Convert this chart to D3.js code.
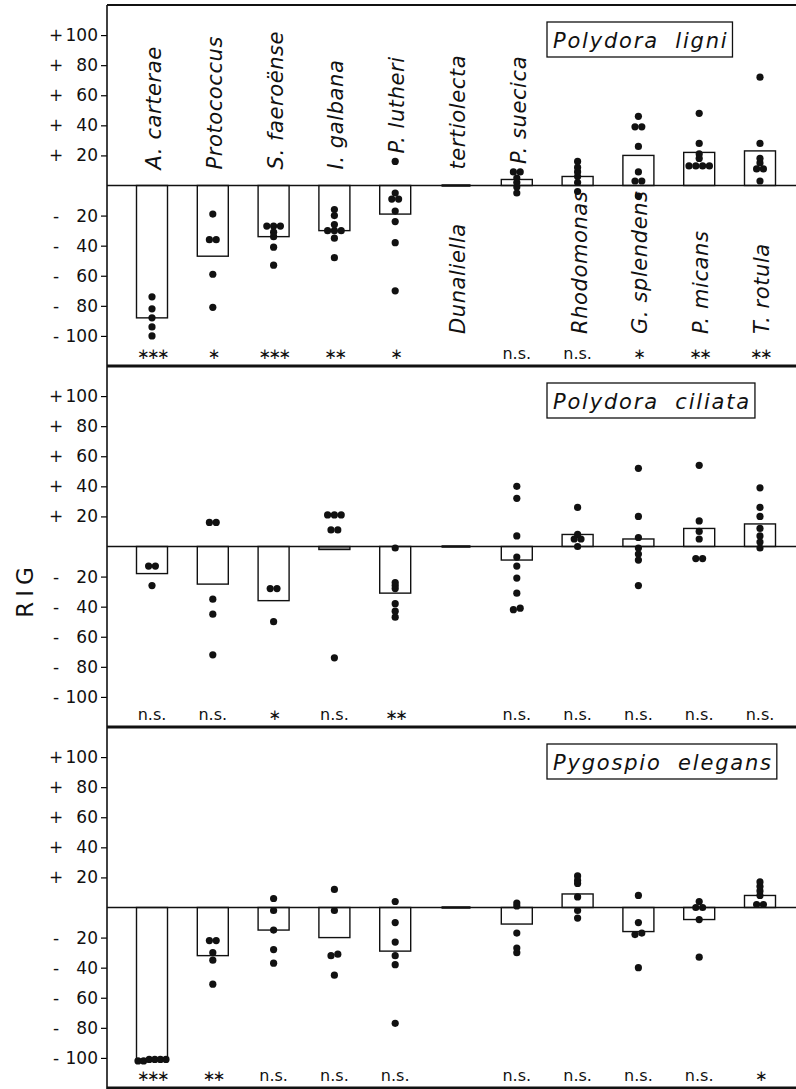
<!DOCTYPE html>
<html>
<head>
<meta charset="utf-8">
<script src="https://d3js.org/d3.v7.min.js"></script>
<style>
  body { margin: 0; background: #fff; }
  text { font-family: "DejaVu Sans", sans-serif; fill: #111; }
</style>
</head>
<body>
<svg id="chart"></svg>
<script>
// algae offered as food
const categories = ["A. carterae", "Protococcus", "S. faeroënse", "I. galbana", "P. lutheri",
  "Dunaliella", "P. suecica", "Rhodomonas", "G. splendens", "P. micans", "T. rotula"];
const labelTop = ["A. carterae", "Protococcus", "S. faeroënse", "I. galbana", "P. lutheri",
  "tertiolecta", "P. suecica", "", "", "", ""];
const labelBottom = ["", "", "", "", "", "Dunaliella", "", "Rhodomonas", "G. splendens", "P. micans", "T. rotula"];

const tickValues = [-100, -80, -60, -40, -20, 20, 40, 60, 80, 100];
const panelTitles = ["Polydora ligni", "Polydora ciliata", "Pygospio elegans"];

// Polydora ligni
const ligniMeans = [-88, -47, -34, -30, -19, 0, 4, 6, 20, 22, 23];
const ligniDots = [
  [-74, -82, -88, -94, -100],
  [-19, -36, -36, -59, -81],
  [-27, -27, -27, -31, -34, -41, -53],
  [-16, -20, -26, -30, -30, -30, -35, -48],
  [16, -5, -9, -9, -17, -24, -38, -70],
  [],
  [9, 9, 5, 2, -1, -5],
  [16, 12, 9, 6, 2, -4],
  [46, 39, 39, 26, 9, 3, 3, -7],
  [48, 28, 21, 18, 13, 13, 13, 13],
  [72, 28, 18, 15, 11, 11, 3]
];
const ligniSig = ["***", "*", "***", "**", "*", "", "n.s.", "n.s.", "*", "**", "**"];

// Polydora ciliata
const ciliataMeans = [-18, -25, -36, -2, -31, 0, -9, 8, 5, 12, 15];
const ciliataDots = [
  [-13, -13, -26],
  [16, 16, -35, -45, -72],
  [-28, -28, -50],
  [21, 21, 21, 11, 11, -74],
  [-1, -24, -26, -28, -38, -43, -47],
  [],
  [40, 32, 7, -7, -13, -21, -31, -41, -42],
  [26, 8, 5, 5, 0],
  [52, 20, 6, -1, -5, -9, -26],
  [54, 17, 10, 5, -8, -8],
  [39, 26, 20, 12, 7, 3, -1]
];
const ciliataSig = ["n.s.", "n.s.", "*", "n.s.", "**", "", "n.s.", "n.s.", "n.s.", "n.s.", "n.s."];

// Pygospio elegans
const pygospioMeans = [-101, -32, -15, -20, -29, 0, -11, 9, -16, -8, 8];
const pygospioDots = [
  [-101, -101, -102, -102, -101, -101],
  [-22, -22, -30, -35, -51],
  [6, -2, -15, -28, -37],
  [12, -2, -31, -32, -45],
  [4, -10, -23, -32, -38, -77],
  [],
  [3, 1, -17, -27, -30],
  [21, 18, 16, 7, -2, -7],
  [8, -10, -17, -18, -40],
  [4, 0, 0, -8, -33],
  [17, 14, 11, 8, 2, 2]
];
const pygospioSig = ["***", "**", "n.s.", "n.s.", "n.s.", "", "n.s.", "n.s.", "n.s.", "n.s.", "*"];

const panels = [
  { title: panelTitles[0], means: ligniMeans, dots: ligniDots, sig: ligniSig, labels: true },
  { title: panelTitles[1], means: ciliataMeans, dots: ciliataDots, sig: ciliataSig, labels: false },
  { title: panelTitles[2], means: pygospioMeans, dots: pygospioDots, sig: pygospioSig, labels: false }
];

const WIDTH = 796, HEIGHT = 1089;
const LEFT = 107, RIGHT = 796, TOP = 5, PANEL_H = 361;
const BAR_W = 31, R = 3.6;

const svg = d3.select("#chart").attr("width", WIDTH).attr("height", HEIGHT);

const x = d3.scalePoint().domain(categories).range([152, 760]);

// spread dots that sit on the same value side by side
function placeDots(values) {
  let sorted = values.slice().sort((a, b) => a - b);
  let groups = [];
  for (let v of sorted) {
    let g = groups[groups.length - 1];
    if (g && Math.abs(v - g[0]) < 1.5) g.push(v);
    else groups.push([v]);
  }
  let out = [];
  groups.forEach(g => {
    const step = g.length > 1 ? Math.min(6.8, 28 / (g.length - 1)) : 0;
    g.forEach((v, i) => out.push({ v: v, dx: (i - (g.length - 1) / 2) * step }));
  });
  return out;
}

panels.forEach((p, pi) => {
  const top = TOP + pi * PANEL_H;
  const y = d3.scaleLinear().domain([-120, 120]).range([top + PANEL_H, top]);
  const g = svg.append("g");

  // axis
  const ax = g.append("g")
    .attr("transform", `translate(${LEFT},0)`)
    .call(d3.axisLeft(y).tickValues(tickValues).tickSize(6).tickPadding(3).tickFormat(d => Math.abs(d)));
  ax.select(".domain").remove();
  ax.attr("font-family", "DejaVu Sans").attr("font-size", 17);
  ax.selectAll(".tick line").attr("stroke-width", 1.2);
  ax.selectAll(".tick").append("text")
    .attr("x", -51)
    .attr("dy", "0.32em")
    .attr("text-anchor", "middle")
    .attr("fill", "#111")
    .text(d => d > 0 ? "+" : "-");

  // bars
  categories.forEach((c, i) => {
    const m = p.means[i];
    if (m === 0) {
      g.append("line")
        .attr("x1", x(c) - BAR_W / 2 + 1).attr("x2", x(c) + BAR_W / 2 - 1)
        .attr("y1", y(0)).attr("y2", y(0))
        .attr("stroke", "#444").attr("stroke-width", 3);
    } else {
      g.append("rect")
        .attr("x", x(c) - BAR_W / 2)
        .attr("width", BAR_W)
        .attr("y", y(Math.max(0, m)))
        .attr("height", Math.abs(y(m) - y(0)))
        .attr("fill", Math.abs(m) < 3 ? "#999" : "#fff")
        .attr("stroke", "#111")
        .attr("stroke-width", 1.4);
    }
  });

  // zero line
  g.append("line")
    .attr("x1", LEFT).attr("x2", RIGHT)
    .attr("y1", y(0)).attr("y2", y(0))
    .attr("stroke", "#111").attr("stroke-width", 1.6);

  // single results
  categories.forEach((c, i) => {
    g.selectAll(null)
      .data(placeDots(p.dots[i]))
      .join("circle")
      .attr("cx", d => x(c) + d.dx)
      .attr("cy", d => y(d.v))
      .attr("r", R)
      .attr("fill", "#111");
  });

  // significance
  categories.forEach((c, i) => {
    const s = p.sig[i];
    if (!s) return;
    const star = s.includes("*");
    g.append("text")
      .attr("x", x(c))
      .attr("y", top + PANEL_H - 7)
      .attr("text-anchor", "middle")
      .attr("font-size", star ? 15 : 16)
      .attr("letter-spacing", star ? -2.5 : 0)
      .text(star ? s.replace(/\*/g, "\u2217") : s);
  });

  // species names (first panel only)
  if (p.labels) {
    categories.forEach((c, i) => {
      if (labelTop[i]) {
        const hi = d3.max(p.dots[i].concat([0, p.means[i]]));
        const start = Math.min(y(0) - 16, y(hi) - 8);
        g.append("text")
          .attr("transform", `translate(${x(c) + 9},${start}) rotate(-90)`)
          .attr("font-size", 21)
          .attr("font-style", "italic")
          .attr("letter-spacing", 0.6)
          .text(labelTop[i]);
      }
      if (labelBottom[i]) {
        g.append("text")
          .attr("transform", `translate(${x(c) + 9},${top + PANEL_H - 32}) rotate(-90)`)
          .attr("font-size", 21)
          .attr("font-style", "italic")
          .attr("letter-spacing", 0.6)
          .text(labelBottom[i]);
      }
    });
  }

  // title box
  const t = g.append("text")
    .attr("x", 553)
    .attr("y", top + 43)
    .attr("font-size", 21)
    .attr("font-style", "italic")
    .attr("letter-spacing", 1.8)
    .attr("word-spacing", 8)
    .text(p.title);
  const bb = t.node().getBBox();
  g.append("rect")
    .attr("x", 547)
    .attr("y", top + 17)
    .attr("width", bb.width + 10)
    .attr("height", 35)
    .attr("fill", "none")
    .attr("stroke", "#111")
    .attr("stroke-width", 1.3);
});

// frame
svg.append("line")
  .attr("x1", LEFT).attr("x2", LEFT)
  .attr("y1", TOP).attr("y2", HEIGHT)
  .attr("stroke", "#111").attr("stroke-width", 1.6);
[0, 1, 2, 3].forEach(k => {
  svg.append("line")
    .attr("x1", LEFT).attr("x2", RIGHT)
    .attr("y1", TOP + k * PANEL_H).attr("y2", TOP + k * PANEL_H)
    .attr("stroke", "#111").attr("stroke-width", k === 0 ? 2 : 2.8);
});

// y label
svg.append("text")
  .attr("transform", "translate(33,590) rotate(-90)")
  .attr("text-anchor", "middle")
  .attr("font-size", 23)
  .attr("letter-spacing", 5)
  .text("RIG");
</script>
</body>
</html>
